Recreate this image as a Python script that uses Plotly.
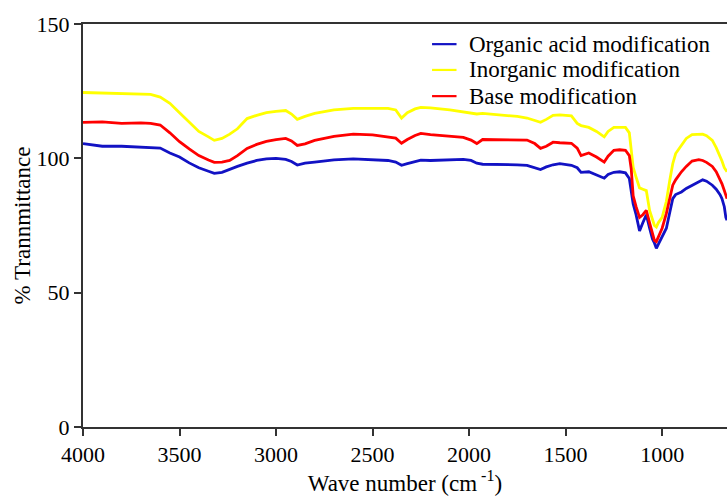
import plotly.graph_objects as go

wavenumber = [4000, 3900, 3800, 3700, 3650, 3600, 3550, 3500, 3450, 3400, 3350, 3320, 3280, 3240,
              3200, 3150, 3100, 3050, 3000, 2950, 2920, 2890, 2850, 2800, 2700, 2600, 2500, 2420,
              2380, 2350, 2320, 2280, 2250, 2200, 2100, 2030, 1990, 1960, 1930, 1850, 1750, 1700,
              1660, 1630, 1600, 1565, 1530, 1500, 1470, 1440, 1420, 1380, 1340, 1300, 1280, 1250,
              1220, 1190, 1170, 1160, 1150, 1135, 1117, 1100, 1082, 1065, 1050, 1040, 1030, 1020,
              1000, 978, 960, 945, 930, 900, 875, 845, 810, 790, 770, 740, 720, 700, 690, 678, 670, 664]

organic_acid = [105.5, 104.5, 104.5, 104.2, 104, 103.8, 102, 100.5, 98.3, 96.5, 95.2, 94.4, 94.8, 96,
                97, 98.2, 99.2, 99.8, 100, 99.6, 98.8, 97.5, 98.2, 98.6, 99.4, 99.8, 99.6, 99.2,
                98.6, 97.4, 98, 98.8, 99.3, 99.2, 99.4, 99.6, 99.2, 98.2, 97.8, 97.8, 97.6, 97.4,
                96.5, 95.8, 96.8, 97.6, 98, 97.8, 97.4, 96.5, 94.8, 95, 93.8, 92.6, 94, 94.8,
                95, 94.6, 92.5, 87, 83, 79, 73, 76, 79, 74, 70, 68.5, 66.5, 68,
                71, 74, 80, 85, 86.5, 87.5, 88.8, 90, 91.5, 92, 91.5, 90, 88.5, 86.5, 85, 82, 78, 77]

inorganic = [124.5, 124.3, 124, 123.8, 123.8, 122.8, 120.5, 117, 113.5, 110, 108, 106.7, 107.4, 109,
             111, 114.8, 116, 117, 117.5, 117.8, 116.5, 114.5, 115.6, 116.7, 118, 118.6, 118.6, 118.6,
             118, 115, 117, 118.4, 119, 118.8, 118, 117.2, 117, 116.5, 116.7, 116.2, 115.6, 115,
             114.2, 113.4, 114.5, 116, 116.2, 116, 115.8, 113, 112.2, 111.5, 110, 108, 110, 111.5,
             111.6, 111.5, 109.5, 104, 96.6, 93, 89, 88.5, 88, 80.6, 77, 75, 74.4, 76,
             78, 84, 92, 98, 101.8, 105, 107.4, 108.8, 109, 109, 108.4, 106.7, 104, 101, 99, 96.5, 95.5, 95]

base = [113.4, 113.6, 113, 113.2, 113, 112.4, 109.5, 106.2, 103.5, 101, 99.4, 98.5, 98.6, 99.2,
        101, 103.7, 105.2, 106.3, 107, 107.4, 106.5, 104.8, 105.4, 106.7, 108.2, 109, 108.7, 108,
        107.5, 105.6, 107, 108.5, 109.3, 108.8, 108.2, 107.8, 106.8, 105.5, 107, 107, 107, 106.8,
        105.5, 103.7, 104.5, 106, 105.8, 105.6, 105.6, 103.8, 101, 102, 100.5, 98.6, 100.8, 103,
        103.2, 103, 101, 96, 86, 82, 78, 79, 80.6, 76, 72, 69.5, 69, 70.5,
        74, 79.5, 86, 90, 92, 95, 97, 99, 99.5, 99.2, 98.5, 97, 95, 92, 90.5, 88, 86, 85]

series_names = ["Organic acid modification", "Inorganic modification", "Base modification"]
series_values = [organic_acid, inorganic, base]
series_colors = ["#1212c4", "#ffff00", "#ff0000"]

x_ticks = [4000, 3500, 3000, 2500, 2000, 1500, 1000]
y_ticks = [0, 50, 100, 150]

font_family = "Liberation Serif"

fig = go.Figure()
for name, vals, col in zip(series_names, series_values, series_colors):
    fig.add_trace(go.Scatter(x=wavenumber, y=vals, mode="lines", name=name,
                             line=dict(color=col, width=2.8), showlegend=False))

# manual legend (lines + text) placed in paper coordinates
legend_y = [0.950, 0.886, 0.821]
for name, col, ly in zip(series_names, series_colors, legend_y):
    fig.add_shape(type="line", xref="paper", yref="paper", x0=0.542, x1=0.580, y0=ly, y1=ly,
                  line=dict(color=col, width=2.2))
    fig.add_annotation(xref="paper", yref="paper", x=0.596, y=ly, xanchor="left", yanchor="middle",
                       text=name, showarrow=False,
                       font=dict(family=font_family, size=23, color="black"))

fig.update_layout(
    width=727, height=497,
    margin=dict(l=83, r=0, t=24, b=70),
    paper_bgcolor="white", plot_bgcolor="white",
    font=dict(family=font_family, size=22, color="black"),
    showlegend=False,
    xaxis=dict(range=[4000, 664], tickvals=x_ticks, ticktext=[str(t) for t in x_ticks],
               tickfont=dict(family=font_family, size=22, color="black"),
               showgrid=False, zeroline=False, showline=True, linecolor="#333333", linewidth=2,
               mirror=True, ticks="outside", ticklen=7, tickwidth=1.5, tickcolor="#333333",
               title=dict(text="Wave number (cm<sup> -1</sup>)", standoff=8,
                          font=dict(family=font_family, size=23, color="black"))),
    yaxis=dict(range=[0, 150], tickvals=y_ticks, showgrid=False, zeroline=False,
               tickfont=dict(family=font_family, size=22, color="black"),
               showline=True, linecolor="#333333", linewidth=2, mirror=False,
               ticks="outside", ticklen=7, tickwidth=1.5, tickcolor="#333333",
               title=dict(text="% Trannmittance", standoff=0,
                          font=dict(family=font_family, size=23, color="black"))),
)

fig.write_html("out.html")
